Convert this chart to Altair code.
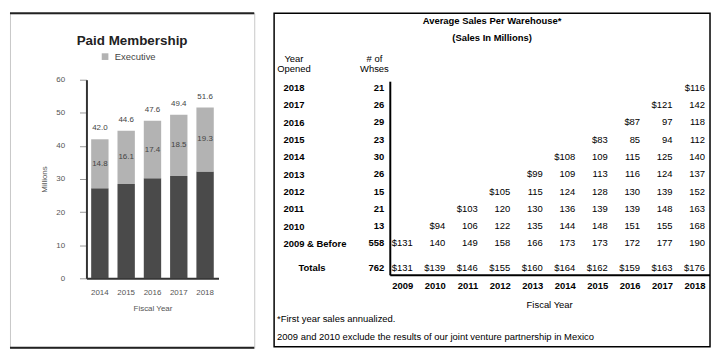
import altair as alt
import pandas as pd

# ---------------- Paid Membership (millions) ----------------
years = ["2014", "2015", "2016", "2017", "2018"]
total_members = [42.0, 44.6, 47.6, 49.4, 51.6]
executive_members = [14.8, 16.1, 17.4, 18.5, 19.3]
segments = ["Gold Star & Business", "Executive"]
y_ticks = [0, 10, 20, 30, 40, 50, 60]

# ---------------- Average Sales Per Warehouse ($ millions) ----------------
row_labels = ["2018", "2017", "2016", "2015", "2014", "2013", "2012", "2011", "2010", "2009 & Before"]
whse_counts = [21, 26, 29, 23, 30, 26, 15, 21, 13, 558]
total_label = "Totals"
total_whses = 762
fiscal_years = ["2009", "2010", "2011", "2012", "2013", "2014", "2015", "2016", "2017", "2018"]
sales_by_row = [
    [116],
    [121, 142],
    [87, 97, 118],
    [83, 85, 94, 112],
    [108, 109, 115, 125, 140],
    [99, 109, 113, 116, 124, 137],
    [105, 115, 124, 128, 130, 139, 152],
    [103, 120, 130, 136, 139, 139, 148, 163],
    [94, 106, 122, 135, 144, 148, 151, 155, 168],
    [131, 140, 149, 158, 166, 173, 173, 172, 177, 190],
]
total_sales = [131, 139, 146, 155, 160, 164, 162, 159, 163, 176]
header_year = "Year\nOpened"
header_whses = "# of\nWhses"
footnotes = ["*First year sales annualized.",
             "2009 and 2010 exclude the results of our joint venture partnership in Mexico"]

FONT = "Liberation Sans"

# ======================= LEFT PANEL =======================
other_members = [round(t - e, 1) for t, e in zip(total_members, executive_members)]
bars = pd.DataFrame({
    "year": years * 2,
    "segment": [segments[0]] * len(years) + [segments[1]] * len(years),
    "value": other_members + executive_members,
    "stack_order": [0] * len(years) + [1] * len(years),
})
tot_lbl = pd.DataFrame({"year": years, "value": total_members,
                        "label": [f"{v:.1f}" for v in total_members]})
exec_lbl = pd.DataFrame({"year": years,
                         "value": [o + e / 2 for o, e in zip(other_members, executive_members)],
                         "label": [f"{v:.1f}" for v in executive_members]})

LW, LH = 246, 337

x_left = alt.X(
    "year:N", sort=years, title="Fiscal Year",
    scale=alt.Scale(domain=years, range=[77, 210], paddingInner=0.34, paddingOuter=0.18),
    axis=alt.Axis(orient="bottom", offset=-70, ticks=False, tickSize=0, domainColor="#333",
                  domainWidth=2, labelPadding=10, labelFontSize=8, labelColor="#555",
                  labelAngle=0, titleFontSize=8, titleFontWeight="normal", titleColor="#555",
                  titlePadding=8),
)
y_axis_left = alt.Axis(orient="left", offset=-77, values=y_ticks, grid=False, tickSize=7,
                       tickColor="#999", domainColor="#333", domainWidth=2, labelPadding=15,
                       labelFontSize=8, labelColor="#555", titleFontSize=8,
                       titleFontWeight="normal", titleColor="#555", titlePadding=7)
y_scale_left = alt.Scale(domain=[0, 60], range=[267, 67], nice=False)

bar_layer = alt.Chart(bars).mark_bar().encode(
    x=x_left,
    y=alt.Y("value:Q", stack="zero", title="Millions", scale=y_scale_left, axis=y_axis_left),
    color=alt.Color("segment:N",
                    scale=alt.Scale(domain=segments, range=["#4a4a4a", "#b3b3b3"]),
                    legend=alt.Legend(values=["Executive"], orient="none", legendX=91,
                                      legendY=39, title=None, symbolType="square",
                                      symbolSize=45, symbolStrokeWidth=0, labelFontSize=9.5,
                                      labelColor="#444", padding=0, labelOffset=5)),
    order=alt.Order("stack_order:Q", sort="ascending"),
)
tot_layer = alt.Chart(tot_lbl).mark_text(fontSize=8, color="#444", baseline="middle", dy=-11).encode(
    x=x_left,
    y=alt.Y("value:Q", stack=None, title="Millions", scale=y_scale_left, axis=y_axis_left),
    text="label:N",
)
exec_layer = alt.Chart(exec_lbl).mark_text(fontSize=8, color="#444", baseline="middle").encode(
    x=x_left,
    y=alt.Y("value:Q", stack=None, title="Millions", scale=y_scale_left, axis=y_axis_left),
    text="label:N",
)
one = pd.DataFrame({"k": [0]})
top_line = alt.Chart(one).mark_rule(color="#222", strokeWidth=2).encode(
    x=alt.value(0), x2=alt.value(LW), y=alt.value(0))
bottom_line = alt.Chart(one).mark_rule(color="#222", strokeWidth=2).encode(
    x=alt.value(0), x2=alt.value(LW), y=alt.value(LH))

left = alt.layer(bar_layer, tot_layer, exec_layer, top_line, bottom_line).properties(
    width=LW, height=LH,
    title=alt.TitleParams("Paid Membership", fontSize=13.5, fontWeight="bold", color="#222",
                          anchor="middle", frame="group", offset=-36),
    view=alt.ViewBackground(stroke="#c8c8c8", strokeWidth=1, fill="white"),
)

# ======================= RIGHT PANEL =======================
cells = []
for lab, vals in zip(row_labels, sales_by_row):
    start = len(fiscal_years) - len(vals)
    for j, v in enumerate(vals):
        cells.append({"row": lab, "fy": fiscal_years[start + j],
                      "txt": (f"${v}" if j == 0 else f"{v}")})
cells_df = pd.DataFrame(cells)
tot_df = pd.DataFrame({"row": [total_label] * len(fiscal_years), "fy": fiscal_years,
                       "txt": [f"${v}" for v in total_sales]})
whse_df = pd.DataFrame({"row": row_labels, "fy": ["#"] * len(row_labels),
                        "txt": [str(c) for c in whse_counts]})
whse_tot_df = pd.DataFrame({"row": [total_label], "fy": ["#"], "txt": [str(total_whses)]})

RW, RH = 439, 336
all_rows = row_labels + [total_label]
is_tot = f"datum.value === '{total_label}'"

x_right = alt.X(
    "fy:N", title="Fiscal Year",
    scale=alt.Scale(domain=["#"] + fiscal_years, range=[107, 434], padding=0),
    axis=alt.Axis(orient="bottom", offset=-72, values=fiscal_years, domain=False, ticks=False,
                  tickSize=0, labelAlign="right", labelFontWeight="bold", labelFontSize=9.5,
                  labelColor="black", labelPadding=5, labelAngle=0, titleFontSize=9.5,
                  titleFontWeight="normal", titleColor="black", titlePadding=7,
                  titleX=277, titleY=24, titleBaseline="top", titleAlign="center"),
)
y_right = alt.Y(
    "row:N", title=None,
    scale=alt.Scale(domain=all_rows, range=[75, 249.4], padding=0),
    axis=alt.Axis(orient="left", offset=-9, domain=False, ticks=False, tickSize=0,
                  labelAlign="left", labelBaseline="middle", labelFontWeight="bold",
                  labelFontSize=9.5, labelColor="black", labelOverlap=False,
                  labelPadding={"condition": {"test": is_tot, "value": -15}, "value": 0},
                  labelOffset={"condition": {"test": is_tot, "value": 7}, "value": 0}),
)

txt_kw = dict(fontSize=9.5, color="black", align="right", baseline="middle")
body = alt.Chart(cells_df).mark_text(**txt_kw).encode(x=x_right, y=y_right, text="txt:N")
body_tot = alt.Chart(tot_df).mark_text(dy=7, **txt_kw).encode(x=x_right, y=y_right, text="txt:N")
whse = alt.Chart(whse_df).mark_text(dx=4, fontWeight="bold", **txt_kw).encode(
    x=x_right, y=y_right, text="txt:N")
whse_tot = alt.Chart(whse_tot_df).mark_text(dx=4, dy=7, fontWeight="bold", **txt_kw).encode(
    x=x_right, y=y_right, text="txt:N")

hdr_year = alt.Chart(pd.DataFrame({"t": [header_year]})).mark_text(
    fontSize=9.5, color="black", align="center", baseline="middle", lineBreak="\n",
    lineHeight=10).encode(x=alt.value(20), y=alt.value(46), text="t:N")
hdr_whse = alt.Chart(pd.DataFrame({"t": [header_whses]})).mark_text(
    fontSize=9.5, color="black", align="center", baseline="middle", lineBreak="\n",
    lineHeight=10).encode(x=alt.value(101), y=alt.value(46), text="t:N")
foot1 = alt.Chart(pd.DataFrame({"t": [footnotes[0]]})).mark_text(
    fontSize=9.5, color="black", align="left", baseline="middle").encode(
    x=alt.value(3), y=alt.value(308), text="t:N")
foot2 = alt.Chart(pd.DataFrame({"t": [footnotes[1]]})).mark_text(
    fontSize=9.5, color="black", align="left", baseline="middle").encode(
    x=alt.value(3), y=alt.value(326), text="t:N")
vline = alt.Chart(one).mark_rule(color="black", strokeWidth=2).encode(
    x=alt.value(117), y=alt.value(69), y2=alt.value(264))
hline = alt.Chart(one).mark_rule(color="black", strokeWidth=2).encode(
    x=alt.value(117), x2=alt.value(RW), y=alt.value(264))

right = alt.layer(body, body_tot, whse, whse_tot, hdr_year, hdr_whse, foot1, foot2,
                  vline, hline).properties(
    width=RW, height=RH,
    title=alt.TitleParams("Average Sales Per Warehouse*", subtitle="(Sales In Millions)",
                          fontSize=9.5, fontWeight="bold", color="black",
                          subtitleFontSize=9.5, subtitleFontWeight="bold",
                          subtitleColor="black", subtitlePadding=8,
                          anchor="middle", frame="group", offset=-30),
    view=alt.ViewBackground(stroke="black", strokeWidth=1.5, fill="white"),
)

chart = alt.hconcat(left, right, spacing=20, bounds="flush").properties(
    padding={"left": 0, "top": 2, "right": 0, "bottom": 0},
    background="white",
).configure(font=FONT)

chart.save("out.html", embed_options={"renderer": "svg", "actions": False})
